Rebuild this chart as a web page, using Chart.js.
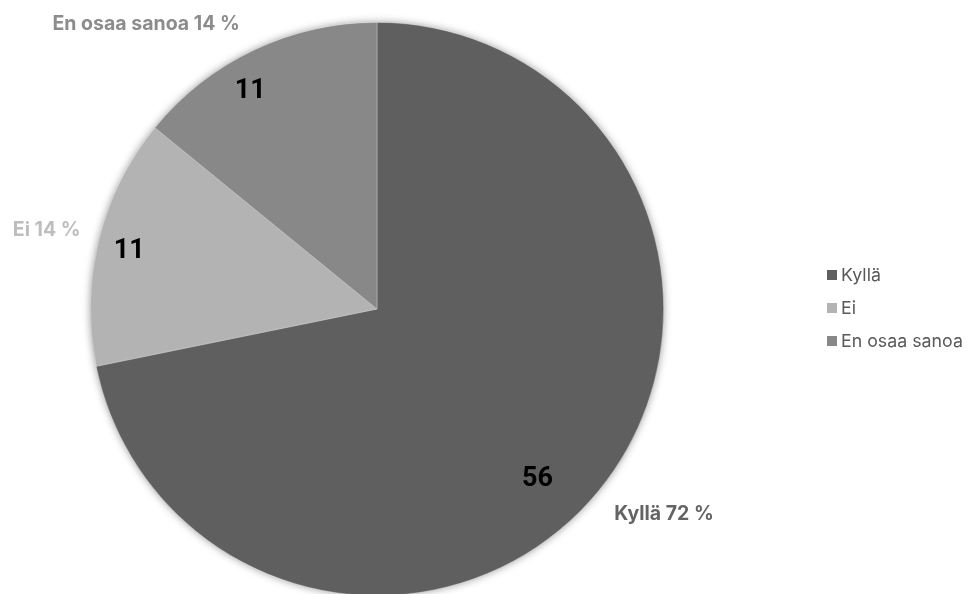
<!DOCTYPE html>
<html>
<head>
<meta charset="utf-8">
<script src="https://cdn.jsdelivr.net/npm/chart.js@4/dist/chart.umd.min.js"></script>
<style>
  html, body { margin: 0; padding: 0; background: #fff; overflow: hidden; }
  #wrap { position: relative; width: 969px; height: 620px; }
</style>
</head>
<body>
<div id="wrap"><canvas id="c" width="969" height="620"></canvas></div>
<script>
// Survey answers (count of respondents)
const categories = ['Kyllä', 'Ei', 'En osaa sanoa'];
const counts = [56, 11, 11];
const sliceColors = ['#5f5f5f', '#b3b3b3', '#888888'];
const outerLabelColors = ['#646464', '#bdbdbd', '#8c8c8c'];

// Label placement: inner value radius fraction / angle shift (deg), outer label offsets from slice edge
const innerRadiusFrac = [0.81, 0.89, 0.887];
const innerAngleShift = [7, 0, -4.5];
const outerOffsets = [[65, 23.5], [-52, -10], [-108, -26]];

const total = counts.reduce((a, b) => a + b, 0);

const FONT = 'Inter, "Liberation Sans", Arial, sans-serif';
const NUM_FONT = 'Roboto, "Liberation Sans", Arial, sans-serif';

// Soft halo behind the whole pie
const pieShadow = {
  id: 'pieShadow',
  beforeDatasetsDraw(chart) {
    const arc = chart.getDatasetMeta(0).data[0];
    if (!arc) return;
    const ctx = chart.ctx;
    ctx.save();
    ctx.shadowColor = 'rgba(0,0,0,0.45)';
    ctx.shadowBlur = 9;
    ctx.fillStyle = '#777';
    ctx.beginPath();
    ctx.arc(arc.x, arc.y, arc.outerRadius - 0.5, 0, Math.PI * 2);
    ctx.fill();
    ctx.restore();
  }
};

// Value labels inside slices and category/percentage labels outside
const sliceLabels = {
  id: 'sliceLabels',
  afterDatasetsDraw(chart) {
    const ctx = chart.ctx;
    const meta = chart.getDatasetMeta(0);
    ctx.save();
    ctx.textAlign = 'center';
    ctx.textBaseline = 'middle';
    meta.data.forEach((arc, i) => {
      const mid = (arc.startAngle + arc.endAngle) / 2;
      const a = mid + innerAngleShift[i] * Math.PI / 180;
      const rIn = arc.outerRadius * innerRadiusFrac[i];
      ctx.font = 'bold 27px ' + NUM_FONT;
      ctx.fillStyle = '#000';
      ctx.fillText(String(counts[i]), arc.x + Math.cos(a) * rIn, arc.y + Math.sin(a) * rIn + 3);

      const ex = arc.x + Math.cos(mid) * arc.outerRadius;
      const ey = arc.y + Math.sin(mid) * arc.outerRadius;
      const pct = Math.round(counts[i] / total * 100);
      ctx.font = 'bold 19.5px ' + FONT;
      ctx.fillStyle = outerLabelColors[i];
      ctx.fillText(categories[i] + ' ' + pct + ' %', ex + outerOffsets[i][0], ey + outerOffsets[i][1]);
    });
    ctx.restore();
  }
};

// Legend at the right
const sideLegend = {
  id: 'sideLegend',
  afterDraw(chart) {
    const ctx = chart.ctx;
    ctx.save();
    ctx.font = '17.8px ' + FONT;
    ctx.textBaseline = 'middle';
    ctx.textAlign = 'left';
    const x0 = 827, y0 = 275, gap = 33;
    categories.forEach((name, i) => {
      const y = y0 + i * gap;
      ctx.fillStyle = sliceColors[i];
      ctx.fillRect(x0, y - 5, 10, 10);
      ctx.fillStyle = '#595959';
      ctx.fillText(name, x0 + 14, y + 1);
    });
    ctx.restore();
  }
};

new Chart(document.getElementById('c'), {
  type: 'pie',
  data: {
    labels: categories,
    datasets: [{
      data: counts,
      backgroundColor: sliceColors,
      borderColor: 'rgba(255,255,255,0.35)',
      borderWidth: 0.8
    }]
  },
  options: {
    responsive: false,
    animation: false,
    events: [],
    layout: { padding: { left: 90, right: 305, top: 22, bottom: 24 } },
    plugins: {
      legend: { display: false },
      tooltip: { enabled: false }
    }
  },
  plugins: [pieShadow, sliceLabels, sideLegend]
});
</script>
</body>
</html>
